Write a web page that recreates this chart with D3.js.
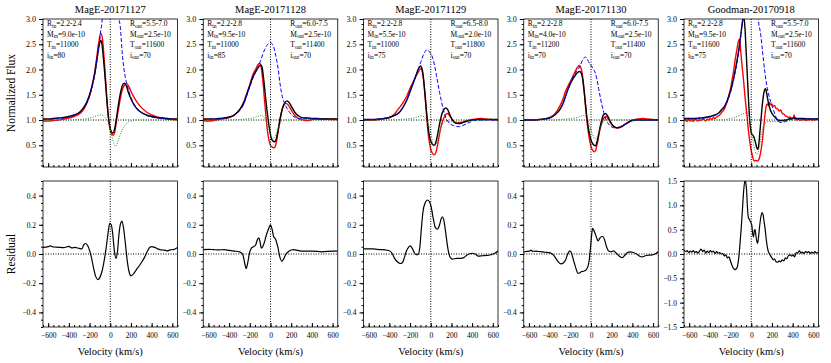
<!DOCTYPE html>
<html>
<head>
<meta charset="utf-8">
<script src="https://cdn.jsdelivr.net/npm/d3@7"></script>
<style>
  body { margin: 0; background: #fff; }
  text { font-family: "Liberation Serif", "DejaVu Serif", serif; font-weight: normal; fill: #000; }
</style>
</head>
<body>
<svg id="chart" width="831" height="363"></svg>
<script>
// panel titles
const titles = ["MagE-20171127", "MagE-20171128", "MagE-20171129", "MagE-20171130", "Goodman-20170918"];

// model parameters written in each panel [R, Mdot, T, i]
const innerPars = [
  ["2.2-2.4", "9.0e-10", "11000", "80"],
  ["2.2-2.8", "9.5e-10", "11000", "85"],
  ["2.2-2.8", "5.5e-10", "11000", "75"],
  ["2.2-2.8", "4.0e-10", "11200", "70"],
  ["2.2-2.8", "9.5e-10", "11600", "75"]
];
const outerPars = [
  ["5.5-7.0", "2.5e-10", "11600", "70"],
  ["6.0-7.5", "2.5e-10", "11400", "70"],
  ["6.5-8.0", "2.0e-10", "11800", "70"],
  ["6.0-7.5", "2.5e-10", "11400", "70"],
  ["5.5-7.0", "2.5e-10", "11600", "70"]
];

// tick values
const velTicks = [-600, -400, -200, 0, 200, 400, 600];
const fluxTicks = [0.5, 1.0, 1.5, 2.0, 2.5, 3.0];
const resTicks = [-0.4, -0.2, 0.0, 0.2, 0.4];
const resTicksWide = [-1.5, -1.0, -0.5, 0.0, 0.5, 1.0, 1.5];

// ---- MagE-20171127 : [velocity km/s, value]
const obs1 = [[-650,0.98],[-600,0.98],[-550,0.99],[-500,1.0],[-450,1.02],[-400,1.04],[-350,1.07],[-300,1.12],[-260,1.2],[-230,1.32],[-200,1.48],[-175,1.68],[-150,1.95],[-130,2.25],[-110,2.55],[-92,2.72],[-75,2.6],[-60,2.25],[-45,1.8],[-30,1.35],[-15,1.0],[0,0.8],[15,0.72],[30,0.7],[45,0.78],[60,0.98],[80,1.22],[100,1.45],[120,1.62],[140,1.7],[160,1.72],[180,1.66],[200,1.57],[230,1.45],[260,1.35],[300,1.25],[350,1.16],[400,1.1],[450,1.06],[500,1.04],[550,1.02],[600,1.01],[650,1.0]];
const mod1 = [[-650,1.02],[-600,1.02],[-550,1.03],[-500,1.04],[-450,1.05],[-400,1.07],[-350,1.1],[-300,1.15],[-260,1.24],[-230,1.34],[-200,1.5],[-175,1.68],[-150,1.92],[-130,2.18],[-110,2.45],[-92,2.58],[-80,2.5],[-65,2.2],[-50,1.85],[-35,1.45],[-20,1.1],[-5,0.88],[10,0.77],[25,0.74],[40,0.8],[55,0.97],[75,1.25],[95,1.5],[115,1.67],[135,1.73],[155,1.68],[175,1.55],[200,1.42],[230,1.3],[260,1.22],[300,1.15],[350,1.1],[400,1.07],[450,1.05],[500,1.04],[550,1.03],[600,1.02],[650,1.02]];
const inner1 = [[-650,1.01],[-600,1.01],[-550,1.02],[-500,1.03],[-450,1.04],[-400,1.06],[-350,1.09],[-300,1.14],[-260,1.22],[-230,1.32],[-200,1.47],[-175,1.65],[-150,1.9],[-130,2.15],[-110,2.45],[-95,2.72],[-75,3.05],[-60,3.6],[-40,4.2],[0,4.6],[40,4.2],[60,3.6],[80,3.05],[97,2.85],[115,2.35],[130,2.05],[145,1.85],[162,1.7],[180,1.57],[200,1.45],[230,1.32],[260,1.23],[300,1.15],[350,1.09],[400,1.06],[450,1.04],[500,1.03],[550,1.02],[600,1.01],[650,1.01]];
const outer1 = [[-650,1.0],[-400,1.0],[-300,1.01],[-250,1.02],[-200,1.04],[-150,1.07],[-100,1.1],[-80,1.1],[-60,1.07],[-40,1.02],[-20,0.95],[0,0.82],[20,0.65],[35,0.53],[50,0.48],[65,0.52],[85,0.65],[110,0.78],[140,0.88],[170,0.95],[200,0.98],[240,1.0],[650,1.0]];
const res1 = [[-650,0.045],[-600,0.05],[-580,0.055],[-550,0.048],[-500,0.046],[-450,0.044],[-400,0.052],[-370,0.042],[-340,0.045],[-300,0.038],[-275,0.035],[-255,0.065],[-240,0.072],[-220,0.06],[-200,0.025],[-180,-0.03],[-160,-0.1],[-140,-0.155],[-120,-0.175],[-100,-0.16],[-80,-0.12],[-60,-0.05],[-40,0.04],[-20,0.15],[-5,0.21],[10,0.2],[25,0.13],[40,0.02],[55,-0.03],[70,0.02],[85,0.14],[100,0.21],[113,0.225],[128,0.18],[145,0.08],[165,-0.05],[185,-0.13],[200,-0.15],[220,-0.14],[250,-0.11],[290,-0.07],[330,-0.025],[360,0.02],[380,0.045],[400,0.05],[430,0.045],[460,0.035],[490,0.028],[520,0.027],[550,0.022],[580,0.028],[610,0.03],[650,0.045]];

// ---- MagE-20171128
const obs2 = [[-650,0.99],[-600,0.98],[-550,0.99],[-500,1.01],[-450,1.03],[-400,1.05],[-350,1.1],[-300,1.2],[-260,1.35],[-230,1.52],[-200,1.7],[-170,1.9],[-140,2.02],[-120,2.1],[-104,2.12],[-90,2.05],[-75,1.8],[-60,1.45],[-45,1.1],[-30,0.8],[-15,0.6],[0,0.5],[20,0.46],[36,0.45],[50,0.5],[70,0.72],[90,0.98],[110,1.18],[130,1.3],[150,1.33],[170,1.3],[200,1.2],[240,1.08],[280,1.02],[320,1.0],[360,0.99],[400,1.01],[450,1.02],[500,1.02],[550,1.02],[600,1.01],[650,1.01]];
const mod2 = [[-650,1.02],[-600,1.02],[-550,1.02],[-500,1.03],[-450,1.04],[-400,1.06],[-350,1.1],[-300,1.2],[-260,1.33],[-230,1.5],[-200,1.68],[-170,1.85],[-140,1.97],[-115,2.05],[-95,2.09],[-82,2.05],[-70,1.88],[-55,1.6],[-40,1.3],[-25,1.05],[-10,0.82],[5,0.66],[20,0.59],[40,0.57],[55,0.62],[75,0.82],[95,1.05],[115,1.23],[135,1.33],[160,1.38],[185,1.33],[210,1.24],[240,1.14],[280,1.07],[320,1.04],[360,1.04],[400,1.03],[450,1.03],[500,1.02],[550,1.02],[600,1.02],[650,1.02]];
const inner2 = [[-650,1.01],[-600,1.01],[-550,1.02],[-500,1.02],[-450,1.03],[-400,1.05],[-350,1.09],[-300,1.18],[-260,1.31],[-230,1.48],[-200,1.66],[-170,1.83],[-140,1.96],[-115,2.07],[-95,2.18],[-75,2.3],[-55,2.4],[-35,2.48],[-15,2.52],[0,2.53],[15,2.51],[30,2.45],[45,2.33],[60,2.18],[75,2.0],[90,1.75],[105,1.55],[120,1.42],[140,1.31],[160,1.23],[185,1.15],[210,1.09],[240,1.05],[280,1.03],[320,1.04],[360,1.04],[400,1.03],[450,1.02],[500,1.02],[600,1.01],[650,1.01]];
const outer2 = [[-650,1.0],[-400,1.0],[-300,1.01],[-200,1.03],[-150,1.05],[-110,1.08],[-90,1.09],[-70,1.07],[-50,1.02],[-30,0.93],[-10,0.8],[10,0.67],[25,0.62],[40,0.65],[60,0.75],[80,0.87],[100,0.95],[125,0.99],[150,1.0],[650,1.0]];
const res2 = [[-650,0.03],[-600,0.032],[-550,0.03],[-500,0.028],[-450,0.03],[-400,0.025],[-350,0.02],[-300,0.015],[-270,0.0],[-250,-0.06],[-235,-0.1],[-220,-0.06],[-205,0.0],[-185,0.04],[-165,0.05],[-145,0.06],[-125,0.1],[-112,0.11],[-100,0.08],[-88,0.04],[-75,0.05],[-55,0.09],[-40,0.13],[-20,0.17],[0,0.2],[15,0.17],[30,0.12],[50,0.1],[70,0.05],[90,-0.02],[110,-0.05],[130,-0.03],[150,0.0],[180,0.02],[220,0.03],[300,0.02],[400,0.02],[500,0.015],[600,0.02],[650,0.02]];

// ---- MagE-20171129
const obs3 = [[-650,1.0],[-600,1.0],[-550,1.0],[-500,1.01],[-450,1.03],[-400,1.05],[-350,1.12],[-320,1.2],[-290,1.28],[-260,1.37],[-230,1.48],[-200,1.63],[-170,1.75],[-140,1.88],[-115,1.97],[-95,2.02],[-80,1.95],[-65,1.7],[-50,1.35],[-35,0.95],[-20,0.65],[0,0.42],[20,0.33],[35,0.31],[50,0.36],[70,0.55],[90,0.78],[110,0.95],[135,1.08],[160,1.13],[185,1.08],[210,1.0],[240,0.95],[270,0.94],[300,0.95],[340,0.98],[400,1.01],[450,1.02],[480,1.03],[520,1.02],[580,1.01],[650,1.0]];
const mod3 = [[-650,1.01],[-600,1.01],[-550,1.01],[-500,1.02],[-450,1.03],[-400,1.05],[-350,1.09],[-300,1.16],[-260,1.28],[-230,1.4],[-200,1.56],[-170,1.73],[-140,1.9],[-118,2.02],[-100,2.07],[-85,2.02],[-70,1.82],[-55,1.5],[-40,1.15],[-25,0.85],[-10,0.65],[10,0.54],[30,0.5],[45,0.53],[65,0.7],[85,0.92],[105,1.1],[125,1.2],[146,1.24],[165,1.2],[185,1.1],[210,1.0],[240,0.94],[270,0.93],[300,0.94],[340,0.97],[400,1.0],[450,1.01],[500,1.01],[600,1.01],[650,1.01]];
const inner3 = [[-650,1.0],[-600,1.0],[-550,1.01],[-500,1.02],[-450,1.03],[-400,1.05],[-350,1.09],[-300,1.16],[-260,1.28],[-230,1.4],[-200,1.56],[-170,1.73],[-140,1.88],[-123,1.97],[-105,2.1],[-90,2.18],[-75,2.27],[-58,2.34],[-40,2.39],[-25,2.38],[-10,2.34],[5,2.3],[20,2.22],[40,2.05],[55,1.88],[70,1.72],[85,1.55],[100,1.4],[120,1.22],[140,1.08],[165,0.98],[190,0.92],[220,0.89],[250,0.87],[280,0.87],[310,0.89],[340,0.92],[380,0.96],[420,0.99],[460,1.0],[650,1.0]];
const outer3 = [[-650,1.0],[-400,1.0],[-300,1.01],[-200,1.03],[-140,1.05],[-100,1.08],[-80,1.08],[-60,1.05],[-40,1.0],[-20,0.9],[0,0.75],[15,0.6],[30,0.5],[45,0.5],[65,0.62],[90,0.8],[115,0.92],[140,0.97],[170,0.97],[220,0.96],[280,0.97],[330,0.99],[380,1.0],[650,1.0]];
const res3 = [[-650,0.035],[-600,0.035],[-560,0.035],[-520,0.032],[-480,0.03],[-440,0.028],[-414,0.025],[-390,0.018],[-370,0.0],[-350,-0.03],[-320,-0.055],[-295,-0.065],[-275,-0.06],[-255,-0.025],[-235,0.02],[-215,0.045],[-198,0.055],[-180,0.04],[-160,0.01],[-140,-0.005],[-120,0.0],[-105,0.05],[-90,0.18],[-75,0.29],[-55,0.35],[-30,0.37],[-10,0.355],[5,0.32],[25,0.24],[45,0.18],[65,0.17],[85,0.2],[100,0.24],[112,0.255],[125,0.235],[140,0.17],[155,0.09],[170,0.02],[190,-0.025],[210,-0.035],[250,-0.03],[290,-0.03],[320,-0.025],[345,-0.01],[370,0.0],[400,0.005],[430,0.0],[460,-0.015],[500,-0.012],[540,-0.01],[580,-0.005],[620,0.005],[650,0.02]];

// ---- MagE-20171130
const obs4 = [[-650,1.0],[-600,1.0],[-550,1.0],[-500,1.01],[-450,1.02],[-400,1.05],[-350,1.12],[-300,1.28],[-270,1.42],[-250,1.55],[-220,1.68],[-190,1.8],[-160,1.93],[-135,2.03],[-113,2.08],[-95,2.02],[-80,1.85],[-65,1.55],[-50,1.2],[-35,0.9],[-20,0.68],[0,0.47],[20,0.39],[32,0.37],[45,0.4],[65,0.58],[85,0.8],[105,0.95],[125,1.04],[146,1.07],[165,1.03],[185,0.96],[210,0.89],[235,0.85],[260,0.84],[290,0.86],[320,0.9],[360,0.96],[400,1.0],[450,1.02],[495,1.03],[540,1.02],[600,1.01],[650,1.0]];
const mod4 = [[-650,1.0],[-600,1.0],[-550,1.0],[-500,1.01],[-450,1.02],[-400,1.04],[-350,1.1],[-300,1.21],[-270,1.33],[-250,1.45],[-220,1.62],[-190,1.76],[-160,1.86],[-135,1.93],[-110,1.96],[-95,1.93],[-80,1.8],[-65,1.55],[-50,1.25],[-35,0.98],[-20,0.78],[0,0.6],[20,0.52],[42,0.49],[60,0.58],[80,0.78],[100,0.97],[120,1.1],[139,1.13],[160,1.08],[180,1.0],[200,0.92],[225,0.87],[250,0.85],[280,0.86],[310,0.89],[350,0.94],[400,0.99],[450,1.0],[500,1.0],[600,1.0],[650,1.0]];
const inner4 = [[-650,1.0],[-600,1.0],[-550,1.0],[-500,1.01],[-450,1.02],[-400,1.04],[-350,1.1],[-300,1.2],[-270,1.32],[-250,1.44],[-220,1.62],[-190,1.78],[-160,1.9],[-135,1.98],[-110,2.05],[-90,2.15],[-70,2.22],[-55,2.25],[-40,2.22],[-25,2.16],[-6,2.1],[10,2.05],[25,2.0],[42,1.93],[58,1.8],[74,1.62],[90,1.45],[107,1.28],[123,1.15],[139,1.04],[160,0.95],[188,0.88],[215,0.85],[240,0.84],[265,0.85],[290,0.87],[333,0.93],[370,0.97],[400,0.99],[450,1.0],[650,1.0]];
const outer4 = [[-650,1.0],[-400,1.0],[-300,1.01],[-200,1.03],[-130,1.05],[-90,1.08],[-70,1.09],[-50,1.06],[-30,1.0],[-10,0.88],[10,0.74],[30,0.65],[45,0.63],[65,0.7],[90,0.84],[115,0.95],[140,0.99],[160,1.0],[650,1.0]];
const res4 = [[-650,0.015],[-620,0.018],[-595,0.02],[-580,0.027],[-565,0.018],[-540,0.02],[-505,0.017],[-470,0.015],[-440,0.012],[-410,0.01],[-385,0.005],[-360,-0.01],[-340,-0.03],[-315,-0.055],[-290,-0.068],[-265,-0.06],[-245,-0.04],[-225,0.0],[-207,0.022],[-192,0.012],[-178,-0.02],[-162,-0.06],[-145,-0.1],[-125,-0.133],[-110,-0.13],[-90,-0.12],[-70,-0.118],[-50,-0.11],[-35,-0.095],[-20,-0.055],[-8,0.02],[5,0.12],[15,0.175],[25,0.165],[40,0.14],[55,0.11],[68,0.09],[85,0.108],[100,0.118],[115,0.12],[130,0.1],[150,0.05],[170,0.02],[195,0.015],[220,0.022],[245,0.005],[270,-0.012],[300,-0.025],[325,-0.01],[350,0.008],[380,0.015],[410,0.01],[440,0.0],[470,-0.015],[495,-0.02],[525,-0.012],[560,-0.008],[590,-0.006],[620,0.0],[650,0.015]];

// ---- Goodman-20170918 (noisier spectrum)
const obs5 = [[-650,0.99],[-635,1.0],[-620,0.97],[-605,1.01],[-590,0.98],[-575,1.0],[-560,0.97],[-545,1.02],[-530,0.99],[-515,0.98],[-500,1.01],[-485,0.99],[-470,1.03],[-455,1.0],[-440,0.98],[-425,1.02],[-410,1.0],[-395,1.03],[-380,1.01],[-365,1.05],[-350,1.03],[-335,1.06],[-320,1.08],[-305,1.1],[-290,1.14],[-275,1.17],[-260,1.22],[-245,1.3],[-230,1.38],[-215,1.5],[-200,1.62],[-185,1.8],[-170,1.98],[-155,2.2],[-140,2.38],[-125,2.55],[-115,2.6],[-105,2.45],[-95,2.2],[-85,2.0],[-75,1.8],[-62,1.5],[-50,1.25],[-39,1.05],[-28,0.8],[-16,0.6],[-5,0.45],[8,0.32],[20,0.22],[32,0.19],[45,0.2],[60,0.19],[74,0.22],[90,0.35],[105,0.55],[118,0.8],[130,1.05],[142,1.25],[155,1.32],[165,1.28],[175,1.35],[188,1.3],[200,1.32],[212,1.27],[225,1.29],[240,1.23],[255,1.22],[270,1.18],[285,1.2],[300,1.13],[315,1.12],[330,1.08],[345,1.07],[360,1.05],[375,1.06],[390,1.02],[405,1.03],[415,1.1],[425,1.02],[440,1.0],[455,1.02],[470,0.99],[485,1.01],[500,1.0],[515,1.02],[530,0.99],[545,1.01],[560,1.0],[575,1.02],[590,0.99],[605,1.01],[620,1.0],[635,1.02],[650,1.0]];
const mod5 = [[-650,1.03],[-600,1.03],[-550,1.03],[-500,1.04],[-450,1.05],[-400,1.07],[-350,1.1],[-310,1.15],[-280,1.22],[-250,1.3],[-220,1.45],[-190,1.65],[-165,1.88],[-140,2.15],[-120,2.4],[-100,2.7],[-85,2.95],[-72,3.05],[-60,2.8],[-48,2.3],[-36,1.8],[-25,1.35],[-15,1.0],[-5,0.8],[5,0.72],[15,0.7],[25,0.67],[35,0.6],[45,0.52],[55,0.44],[62,0.42],[72,0.5],[85,0.8],[100,1.15],[115,1.45],[130,1.6],[138,1.62],[150,1.52],[165,1.35],[185,1.2],[210,1.1],[240,1.03],[270,0.99],[300,0.99],[340,1.0],[380,1.03],[410,1.04],[450,1.03],[500,1.03],[550,1.02],[600,1.02],[650,1.02]];
const inner5 = [[-650,1.02],[-600,1.02],[-550,1.02],[-500,1.03],[-450,1.04],[-400,1.06],[-350,1.09],[-310,1.14],[-280,1.2],[-250,1.29],[-220,1.43],[-190,1.62],[-165,1.85],[-140,2.1],[-120,2.35],[-104,2.6],[-90,2.85],[-78,3.1],[-60,3.6],[-30,4.3],[0,4.6],[40,4.0],[68,3.0],[91,2.7],[107,2.4],[133,1.92],[155,1.63],[188,1.36],[220,1.17],[252,1.0],[285,0.95],[333,0.97],[400,1.02],[450,1.02],[650,1.02]];
const outer5 = [[-650,1.0],[-400,1.0],[-300,1.0],[-250,1.01],[-200,1.03],[-150,1.06],[-100,1.1],[-60,1.14],[-40,1.15],[-25,1.1],[-10,0.95],[5,0.75],[20,0.55],[35,0.4],[50,0.33],[62,0.34],[75,0.42],[90,0.6],[105,0.78],[120,0.9],[140,0.95],[170,0.97],[220,0.97],[270,0.97],[310,0.98],[350,1.0],[650,1.0]];
const res5 = [[-650,0.08],[-635,0.05],[-620,0.07],[-605,0.03],[-590,0.06],[-575,0.04],[-560,0.07],[-545,0.03],[-530,0.05],[-515,0.02],[-500,0.06],[-485,0.1],[-470,0.05],[-455,0.08],[-440,0.02],[-425,0.06],[-410,0.03],[-395,0.07],[-380,0.04],[-365,0.06],[-350,0.01],[-335,0.05],[-320,0.02],[-305,0.03],[-290,0.0],[-275,0.01],[-260,-0.04],[-245,-0.02],[-230,-0.08],[-215,-0.06],[-200,-0.15],[-185,-0.24],[-170,-0.3],[-155,-0.32],[-143,-0.3],[-133,-0.25],[-122,-0.1],[-113,0.1],[-100,0.45],[-87,0.85],[-75,1.25],[-62,1.5],[-55,1.48],[-45,1.3],[-38,1.0],[-28,0.75],[-15,0.7],[-5,0.65],[5,0.6],[15,0.4],[22,0.35],[30,0.48],[37,0.5],[45,0.38],[52,0.28],[60,0.22],[68,0.3],[80,0.55],[92,0.75],[105,0.85],[115,0.8],[125,0.65],[135,0.5],[145,0.3],[155,0.15],[165,0.05],[178,0.0],[190,-0.05],[200,-0.08],[212,-0.12],[225,-0.1],[240,-0.16],[255,-0.17],[270,-0.14],[285,-0.16],[300,-0.12],[315,-0.14],[330,-0.08],[345,-0.1],[360,-0.03],[375,-0.02],[390,-0.04],[405,-0.02],[420,-0.06],[435,0.03],[450,0.02],[465,0.07],[480,0.02],[495,0.04],[510,0.01],[525,0.05],[540,0.03],[555,0.05],[570,0.01],[585,0.04],[600,0.02],[615,0.05],[630,0.02],[650,0.04]];

// table built from the arrays above
const panels = [
  { obs: obs1, mod: mod1, inner: inner1, outer: outer1, res: res1, resTicks: resTicks },
  { obs: obs2, mod: mod2, inner: inner2, outer: outer2, res: res2, resTicks: resTicks },
  { obs: obs3, mod: mod3, inner: inner3, outer: outer3, res: res3, resTicks: resTicks },
  { obs: obs4, mod: mod4, inner: inner4, outer: outer4, res: res4, resTicks: resTicks },
  { obs: obs5, mod: mod5, inner: inner5, outer: outer5, res: res5, resTicks: resTicksWide }
];

const svg = d3.select("#chart");
const serif = '"Liberation Serif", "DejaVu Serif", serif';

const left0 = 43, stride = 160.25, pw = 134.5;
const topBox = [19, 167], botBox = [181, 327];

panels.forEach((p, i) => {
  const x0 = left0 + i * stride;

  const x = d3.scaleLinear().domain([-650, 650]).range([x0, x0 + pw]);
  const yTop = d3.scaleLinear().domain([0.07, 3.0]).range([topBox[1], topBox[0]]);
  const rLim = p.resTicks[p.resTicks.length - 1] > 1 ? 1.5 : 0.5;
  const yBot = d3.scaleLinear().domain([-rLim, rLim]).range([botBox[1], botBox[0]]);

  // clip areas
  const defs = svg.append("defs");
  defs.append("clipPath").attr("id", "ct" + i)
    .append("rect").attr("x", x0).attr("y", topBox[0])
    .attr("width", pw).attr("height", topBox[1] - topBox[0]);
  defs.append("clipPath").attr("id", "cb" + i)
    .append("rect").attr("x", x0).attr("y", botBox[0])
    .attr("width", pw).attr("height", botBox[1] - botBox[0]);

  // ---------- top panel ----------
  const gt = svg.append("g");

  const minorX = d3.range(-650, 651, 50);

  // x ticks (inward, no labels)
  gt.append("g").attr("transform", `translate(0,${topBox[1]})`)
    .call(d3.axisBottom(x).tickValues(minorX).tickSize(-2).tickFormat(""))
    .call(g => g.select(".domain").remove());
  gt.append("g").attr("transform", `translate(0,${topBox[1]})`)
    .call(d3.axisBottom(x).tickValues(velTicks).tickSize(-4).tickFormat(""))
    .call(g => g.select(".domain").remove());

  // y ticks
  gt.append("g").attr("transform", `translate(${x0},0)`)
    .call(d3.axisLeft(yTop).tickValues(d3.range(0.1, 3.0, 0.1)).tickSize(2).tickFormat(""))
    .call(g => g.select(".domain").remove());
  gt.append("g").attr("transform", `translate(${x0},0)`)
    .call(d3.axisLeft(yTop).tickValues(fluxTicks).tickSize(4).tickPadding(3).tickFormat(d3.format(".1f")))
    .call(g => g.select(".domain").remove())
    .call(g => g.selectAll("text").style("font-size", "8px").style("font-family", serif));

  const line = (y) => d3.line().x(d => x(d[0])).y(d => y(d[1])).curve(d3.curveMonotoneX);

  const curves = gt.append("g").attr("clip-path", `url(#ct${i})`);

  // reference line at continuum
  curves.append("line")
    .attr("x1", x0).attr("x2", x0 + pw).attr("y1", yTop(1)).attr("y2", yTop(1))
    .attr("stroke", "#000").attr("stroke-width", 1).attr("stroke-dasharray", "1,1.5");

  curves.append("path").datum(p.obs).attr("d", line(yTop))
    .attr("fill", "none").attr("stroke", "#ff0000").attr("stroke-width", 1.4);
  curves.append("path").datum(p.mod).attr("d", line(yTop))
    .attr("fill", "none").attr("stroke", "#000").attr("stroke-width", 1.4);
  curves.append("path").datum(p.inner).attr("d", line(yTop))
    .attr("fill", "none").attr("stroke", "#0000ff").attr("stroke-width", 1).attr("stroke-dasharray", "4,2");
  curves.append("path").datum(p.outer).attr("d", line(yTop))
    .attr("fill", "none").attr("stroke", "#1f9a1f").attr("stroke-width", 1).attr("stroke-dasharray", "1,1.5");

  curves.append("line")
    .attr("x1", x(0)).attr("x2", x(0)).attr("y1", topBox[0]).attr("y2", topBox[1])
    .attr("stroke", "#000").attr("stroke-width", 1).attr("stroke-dasharray", "1,1.5");

  gt.append("rect").attr("x", x0).attr("y", topBox[0])
    .attr("width", pw).attr("height", topBox[1] - topBox[0])
    .attr("fill", "none").attr("stroke", "#000").attr("stroke-width", 0.8);

  gt.append("text").attr("x", x0 + pw / 2).attr("y", 13)
    .attr("text-anchor", "middle").style("font-size", "10.5px").text(titles[i]);

  // parameter notes
  const names = [["R", "in"], ["\u1E40", "in"], ["T", "in"], ["i", "in"]];
  const namesOut = [["R", "out"], ["\u1E40", "out"], ["T", "out"], ["i", "out"]];
  const note = (xx, nm, vals) => {
    nm.forEach((n, k) => {
      const t = gt.append("text").attr("x", xx).attr("y", 26 + k * 10.6).style("font-size", "7.5px");
      t.append("tspan").text(n[0]);
      t.append("tspan").attr("dy", 1.6).style("font-size", "5.5px").text(n[1]);
      t.append("tspan").attr("dy", -1.6).text("=" + vals[k]);
    });
  };
  note(x0 + 4, names, innerPars[i]);
  note(x0 + 87, namesOut, outerPars[i]);

  // ---------- bottom panel ----------
  const gb = svg.append("g");

  gb.append("g").attr("transform", `translate(0,${botBox[1]})`)
    .call(d3.axisBottom(x).tickValues(minorX).tickSize(-2).tickFormat(""))
    .call(g => g.select(".domain").remove());
  gb.append("g").attr("transform", `translate(0,${botBox[1]})`)
    .call(d3.axisBottom(x).tickValues(velTicks).tickSize(-4).tickPadding(6).tickFormat(d3.format("d")))
    .call(g => g.select(".domain").remove())
    .call(g => g.selectAll("text").style("font-size", "7.5px").style("font-family", serif));

  const rStep = rLim > 1 ? 0.1 : 0.05;
  gb.append("g").attr("transform", `translate(${x0},0)`)
    .call(d3.axisLeft(yBot).tickValues(d3.range(-rLim, rLim + 1e-9, rStep)).tickSize(2).tickFormat(""))
    .call(g => g.select(".domain").remove());
  gb.append("g").attr("transform", `translate(${x0},0)`)
    .call(d3.axisLeft(yBot).tickValues(p.resTicks).tickSize(4).tickPadding(3).tickFormat(d3.format(".1f")))
    .call(g => g.select(".domain").remove())
    .call(g => g.selectAll("text").style("font-size", "7.5px").style("font-family", serif));

  const rc = gb.append("g").attr("clip-path", `url(#cb${i})`);
  rc.append("line")
    .attr("x1", x0).attr("x2", x0 + pw).attr("y1", yBot(0)).attr("y2", yBot(0))
    .attr("stroke", "#000").attr("stroke-width", 1).attr("stroke-dasharray", "1,1.5");
  rc.append("line")
    .attr("x1", x(0)).attr("x2", x(0)).attr("y1", botBox[0]).attr("y2", botBox[1])
    .attr("stroke", "#000").attr("stroke-width", 1).attr("stroke-dasharray", "1,1.5");
  rc.append("path").datum(p.res).attr("d", line(yBot))
    .attr("fill", "none").attr("stroke", "#000").attr("stroke-width", 1.2);

  gb.append("rect").attr("x", x0).attr("y", botBox[0])
    .attr("width", pw).attr("height", botBox[1] - botBox[0])
    .attr("fill", "none").attr("stroke", "#000").attr("stroke-width", 0.8);

  gb.append("text").attr("x", x0 + pw / 2).attr("y", 355)
    .attr("text-anchor", "middle").style("font-size", "10.5px").text("Velocity (km/s)");
});

// y labels
svg.append("text").attr("transform", `translate(15,${(topBox[0] + topBox[1]) / 2}) rotate(-90)`)
  .attr("text-anchor", "middle").style("font-size", "11.5px").text("Normalized Flux");
svg.append("text").attr("transform", `translate(15,${(botBox[0] + botBox[1]) / 2}) rotate(-90)`)
  .attr("text-anchor", "middle").style("font-size", "11.5px").text("Residual");
</script>
</body>
</html>
